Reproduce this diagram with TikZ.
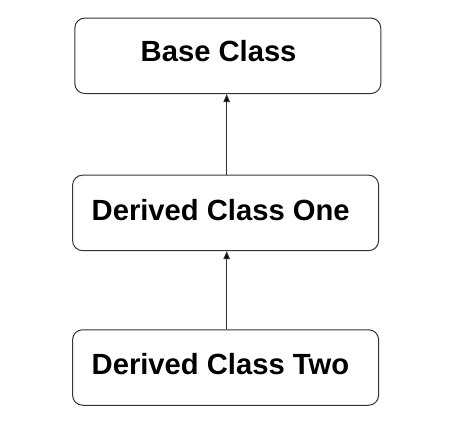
\documentclass[tikz,border=0pt]{standalone}
\usepackage{fontspec}
\setmainfont{Liberation Sans}
\usetikzlibrary{arrows.meta}
\begin{document}
\begin{tikzpicture}[x=1pt,y=-1pt,
  classbox/.style={draw=black!80, line width=1pt, rounded corners=10pt,
    minimum width=306pt, minimum height=75.5pt, inner sep=0pt, fill=white},
  classtext/.style={anchor=base west, inner sep=0pt,
    font=\fontsize{29.2}{34}\selectfont\bfseries},
  inherit/.style={draw=black!80, line width=1pt,
    -{Triangle[length=8pt,width=6.5pt,fill=black]}}]
  \useasboundingbox (0,0) rectangle (451,439);
  % class boxes
  \node[classbox] (base) at (227.8,55.8) {};
  \node[classbox] (one)  at (225.6,212.9) {};
  \node[classbox] (two)  at (225.6,367.5) {};
  % class names
  \node[classtext] (baset) at (140.5,61) {Base Class};
  \node[classtext] (onet)  at (91.5,220.7) {Derived Class One};
  \node[classtext] (twot)  at (91.5,374.3) {Derived Class Two};
  % inheritance arrows
  \coordinate (ax) at (226.7,0);
  \draw[inherit] (one.north -| ax) -- (base.south -| ax);
  \draw[inherit] (two.north -| ax) -- (one.south -| ax);
\end{tikzpicture}
\end{document}
